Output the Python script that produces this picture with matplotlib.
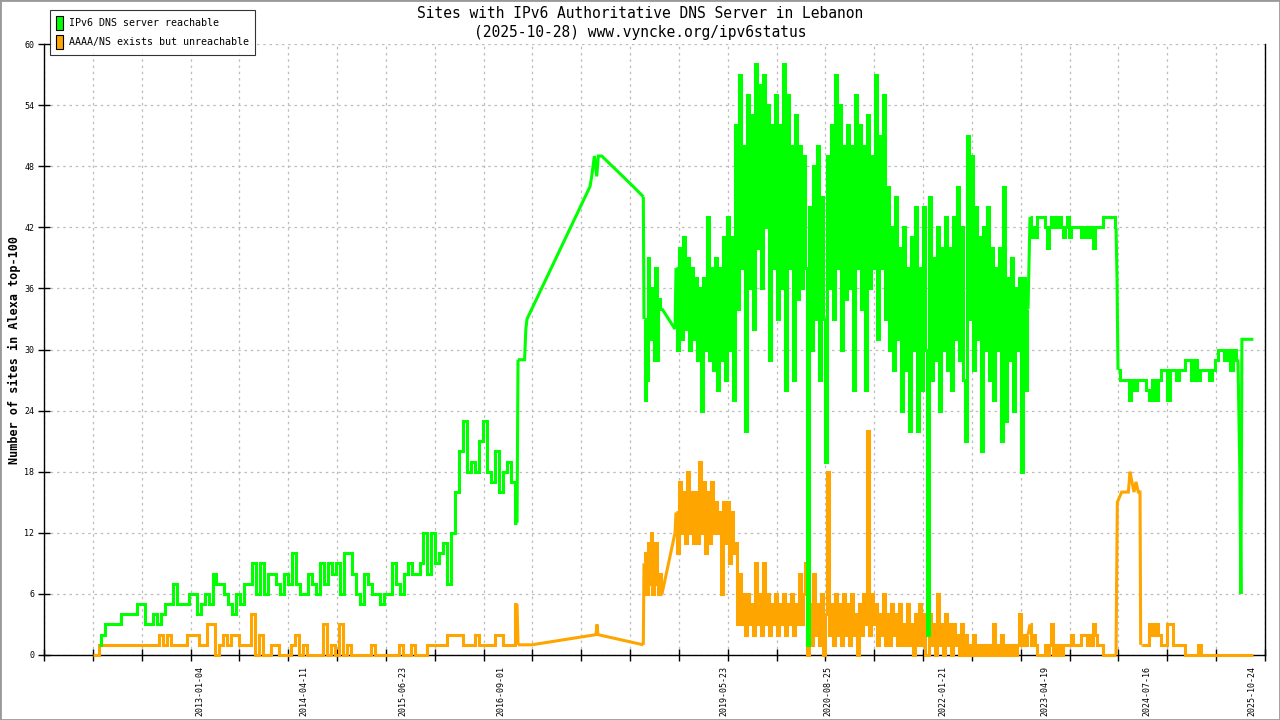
import datetime as dt
import numpy as np
import matplotlib
matplotlib.use('Agg')
import matplotlib.pyplot as plt
from matplotlib.patches import Patch, Rectangle

plt.rcParams['font.family'] = ['DejaVu Sans Mono']

GREEN = '#00ff00'
ORANGE = '#ffa500'

# x values are decimal years; noisy stretches are sampled evenly between the span ends
# --- IPv6 DNS server reachable ---
green_a_span = (2011.781, 2016.868)
green_a = [1, 2, 3, 3, 3, 3, 4, 4, 4, 4, 5, 5, 3, 3, 4, 3, 4, 5, 5, 7,
           5, 5, 5, 6, 6, 4, 5, 6, 5, 8, 7, 7, 6, 5, 4, 6, 5, 7, 7, 9,
           6, 9, 6, 8, 8, 7, 6, 8, 7, 10, 7, 6, 6, 8, 7, 6, 9, 7, 9, 8,
           9, 6, 10, 10, 8, 6, 5, 8, 7, 6, 6, 5, 6, 6, 9, 7, 6, 8, 9, 8,
           8, 9, 12, 8, 12, 9, 10, 11, 7, 12, 16, 20, 23, 18, 19, 18, 21, 23, 18, 17,
           20, 16, 18, 19, 17, 13]
green_b_x = [2016.880, 2016.960, 2016.975, 2016.990, 2017.756, 2017.777, 2017.809,
             2017.838, 2017.857, 2017.899, 2018.283, 2018.405]
green_b = [29, 29, 32, 33, 46, 47, 49, 47, 49, 49, 46, 45]
green_c_span = (2018.413, 2018.632)
green_c = [33, 25, 27, 39, 31, 36, 31, 29, 38, 29, 35, 34, 34]
green_d_x = [2018.791]
green_d = [32]
green_e_span = (2018.803, 2023.087)
green_e = [38, 30, 40, 31, 41, 32, 39, 30, 38, 31,
           37, 29, 36, 24, 37, 30, 43, 29, 38, 28,
           39, 26, 38, 29, 41, 27, 43, 30, 41, 25,
           52, 34, 57, 38, 50, 22, 55, 36, 53, 32,
           58, 40, 56, 36, 57, 42, 54, 29, 52, 38,
           55, 33, 52, 36, 58, 26, 55, 38, 50, 27,
           53, 35, 50, 36, 49, 38,
           1, 44,
           30, 48, 33, 50, 27, 45, 33, 19,
           49, 36, 52, 33, 57, 38, 54, 30, 50, 35,
           52, 36, 50, 26, 55, 38, 52, 34, 50, 26,
           53, 36, 49, 38, 57, 31, 51, 38, 55, 33,
           46, 30, 42, 28, 45, 31, 40, 24, 42, 28,
           38, 22, 41, 30, 44, 22, 38, 26, 44, 30,
           2,
           45, 27, 39, 29, 42, 24, 40, 30, 43, 28,
           40, 26, 43, 31, 46, 29, 42, 27, 21, 51,
           33, 49, 28, 44, 31, 41, 20, 42, 30, 44,
           27, 40, 25, 38, 30, 40, 21, 46, 23, 37,
           29, 39, 24, 36, 30, 37, 18, 37, 26, 34]
green_f_span = (2023.111, 2024.158)
green_f = [43, 41, 42, 41, 43, 43, 43, 43, 42, 40, 42, 43, 42, 43, 42, 43, 42, 41, 42, 43,
           41, 42, 42, 42, 42, 42, 41, 42, 41, 42, 41, 42, 40, 42, 42, 42, 42, 43, 43, 43,
           43, 43, 43, 42]
green_g_x = [2024.170]
green_g = [37]
green_h_span = (2024.182, 2025.642)
green_h = [28, 27, 27, 27, 25, 27, 26, 27, 27, 27, 26, 25, 27, 25, 27, 28, 28, 25, 28, 28,
           27, 28, 28, 29, 29, 27, 29, 27, 28, 28, 28, 27, 28, 29, 30, 30, 29, 30, 28, 30,
           29]
green_i_x = [2025.665, 2025.678, 2025.690, 2025.830]
green_i = [18, 6, 31, 31]

# --- AAAA/NS exists but unreachable ---
orange_a_span = (2011.708, 2016.868)
orange_a = [0, 0, 1, 1, 1, 1, 1, 1, 1, 1, 1, 1, 1, 1, 1, 1, 1, 2, 1, 2,
            1, 1, 1, 1, 2, 2, 2, 1, 1, 3, 3, 0, 1, 2, 1, 2, 2, 1, 1, 1,
            4, 0, 2, 0, 0, 1, 1, 0, 0, 0, 1, 2, 0, 1, 0, 0, 0, 0, 3, 0,
            1, 0, 3, 0, 1, 0, 0, 0, 0, 0, 1, 0, 0, 0, 0, 0, 0, 1, 0, 0,
            1, 0, 0, 0, 1, 1, 1, 1, 1, 2, 2, 2, 2, 1, 1, 1, 2, 1, 1, 1,
            1, 2, 2, 1, 1, 1, 5]
orange_b_x = [2016.880, 2017.047, 2017.829, 2017.841, 2017.853, 2018.405]
orange_b = [1, 1, 2, 3, 2, 1]
orange_c_span = (2018.413, 2018.632)
orange_c = [9, 10, 6, 11, 7, 12, 6, 8, 11, 7, 6, 8, 6]
orange_d_x = [2018.791]
orange_d = [12]
orange_e_span = (2018.803, 2023.087)
orange_e = [14, 10, 17, 12, 16, 11, 18, 12, 16, 11,
            16, 11, 19, 12, 17, 10, 16, 11, 17, 12,
            15, 12, 14, 6, 15, 11, 15, 9, 14, 10,
            11, 3, 8, 3, 6, 2, 6, 3, 5, 2,
            9, 3, 6, 2, 9, 3, 6, 2, 5, 3,
            6, 2, 5, 3, 6, 2, 5, 3, 6, 2,
            5, 3, 8, 3, 6, 9,
            0, 5,
            1, 8, 2, 5, 1, 6, 0, 4,
            18, 2, 5, 1, 6, 2, 5, 1, 6, 2,
            5, 1, 6, 2, 4, 0, 5, 2, 6, 3,
            22, 2, 6, 3, 5, 1, 4, 2, 6, 1,
            4, 1, 5, 2, 4, 1, 5, 1, 3, 1,
            5, 1, 3, 0, 4, 1, 5, 1, 4, 0,
            0,
            4, 1, 3, 0, 6, 1, 3, 0, 4, 1,
            3, 0, 3, 1, 2, 0, 3, 0, 2, 0,
            1, 0, 2, 0, 1, 0, 1, 0, 1, 0,
            1, 0, 3, 0, 1, 0, 2, 0, 1, 0,
            1, 0, 1, 0, 1, 4, 1, 2, 1, 2]
orange_f_span = (2023.111, 2024.158)
orange_f = [3, 1, 2, 1, 0, 0, 0, 0, 1, 0, 1, 3, 0, 1, 0, 1, 0, 1, 1, 1,
            1, 2, 1, 1, 1, 1, 2, 2, 2, 1, 2, 1, 3, 2, 1, 1, 1, 0, 0, 0,
            0, 0, 0, 0]
orange_g_x = [2024.164, 2024.174, 2024.227, 2024.308, 2024.328, 2024.352, 2024.377,
              2024.401, 2024.429, 2024.450, 2024.458]
orange_g = [6, 15, 16, 16, 18, 17, 16, 17, 16, 16, 1]
orange_h_span = (2024.470, 2025.830)
orange_h = [1, 1, 1, 3, 2, 3, 2, 1, 1, 3, 3, 1, 1, 1, 1, 0, 0, 0, 0, 1,
            0, 0, 0, 0, 0, 0, 0, 0, 0, 0, 0, 0, 0, 0, 0, 0, 0, 0]

date_labels = ['2013-01-04', '2014-04-11', '2015-06-23', '2016-09-01', '2019-05-23',
               '2020-08-25', '2022-01-21', '2023-04-19', '2024-07-16', '2025-10-24']


def dec_year(s):
    d = dt.date.fromisoformat(s)
    return d.year + (d - dt.date(d.year, 1, 1)).days / 365.25


def draw_series(ax, parts, color, z):
    # evenly sampled spans are drawn as steps, sparse points as plain lines
    pieces = []
    for xpart, vals in parts:
        if isinstance(xpart, tuple):
            x = np.linspace(xpart[0], xpart[1], len(vals))
            pieces.append((x, np.array(vals, float), 'steps-mid'))
        else:
            pieces.append((np.array(xpart, float), np.array(vals, float), 'default'))
    kw = dict(color=color, lw=2.2, zorder=z, clip_on=False,
              solid_joinstyle='miter', solid_capstyle='butt')
    for i, (x, y, style) in enumerate(pieces):
        ax.plot(x, y, drawstyle=style, **kw)
        if i + 1 < len(pieces):
            nx, ny, _ = pieces[i + 1]
            ax.plot([x[-1], nx[0]], [y[-1], ny[0]], **kw)


fig = plt.figure(figsize=(12.8, 7.2), dpi=100)
ax = fig.add_axes([44 / 1280, 65 / 720, 1221 / 1280, 611 / 720])

draw_series(ax, [(orange_a_span, orange_a), (orange_b_x, orange_b), (orange_c_span, orange_c),
                 (orange_d_x, orange_d), (orange_e_span, orange_e), (orange_f_span, orange_f),
                 (orange_g_x, orange_g), (orange_h_span, orange_h)], ORANGE, 3)
draw_series(ax, [(green_a_span, green_a), (green_b_x, green_b), (green_c_span, green_c),
                 (green_d_x, green_d), (green_e_span, green_e), (green_f_span, green_f),
                 (green_g_x, green_g), (green_h_span, green_h), (green_i_x, green_i)], GREEN, 4)

x0, x1 = 2011.111, 2025.971
ax.set_xlim(x0, x1)
ax.set_ylim(0, 60)
ax.set_yticks(np.arange(0, 61, 6))
ax.set_xticks(np.linspace(x0, x1, 26))
ax.set_xticklabels([])
ax.set_xticks([dec_year(s) for s in date_labels], minor=True)
ax.set_xticklabels(date_labels, minor=True, rotation=90)

ax.tick_params(axis='both', which='major', direction='inout', length=8, width=1,
               labelsize=6, pad=3)
ax.tick_params(axis='x', which='minor', length=0, labelsize=6, pad=8)
ax.grid(True, which='major', color='#bdbdbd', linestyle=(0, (2, 3)), linewidth=0.9)

for side in ('left', 'bottom', 'right'):
    ax.spines[side].set_color('black')
    ax.spines[side].set_linewidth(1.0)
ax.spines['top'].set_visible(False)

fig.text(14 / 1280, 1 - 350 / 720, 'Number of sites in Alexa top-100', rotation=90,
         ha='center', va='center', fontsize=8.5, fontweight='bold')

fig.text(0.5, 1 - 13 / 720, 'Sites with IPv6 Authoritative DNS Server in Lebanon',
         ha='center', va='center', fontsize=10.5)
fig.text(0.5, 1 - 32 / 720, '(2025-10-28) www.vyncke.org/ipv6status',
         ha='center', va='center', fontsize=10.5)

handles = [Patch(facecolor=GREEN, edgecolor='black', lw=0.8),
           Patch(facecolor=ORANGE, edgecolor='black', lw=0.8)]
leg = fig.legend(handles, ['IPv6 DNS server reachable', 'AAAA/NS exists but unreachable'],
                 loc='upper left', bbox_to_anchor=(50 / 1280, 1 - 10 / 720),
                 borderaxespad=0, fontsize=7.2, frameon=True, fancybox=False,
                 handlelength=0.7, handleheight=1.8, handletextpad=0.6,
                 labelspacing=0.5, borderpad=0.6)
leg.get_frame().set_edgecolor('black')
leg.get_frame().set_linewidth(0.8)

fig.add_artist(Rectangle((0, 0), 1, 1, transform=fig.transFigure, fill=False,
                         edgecolor='#999999', lw=2))

fig.savefig('out.png', dpi=100)
